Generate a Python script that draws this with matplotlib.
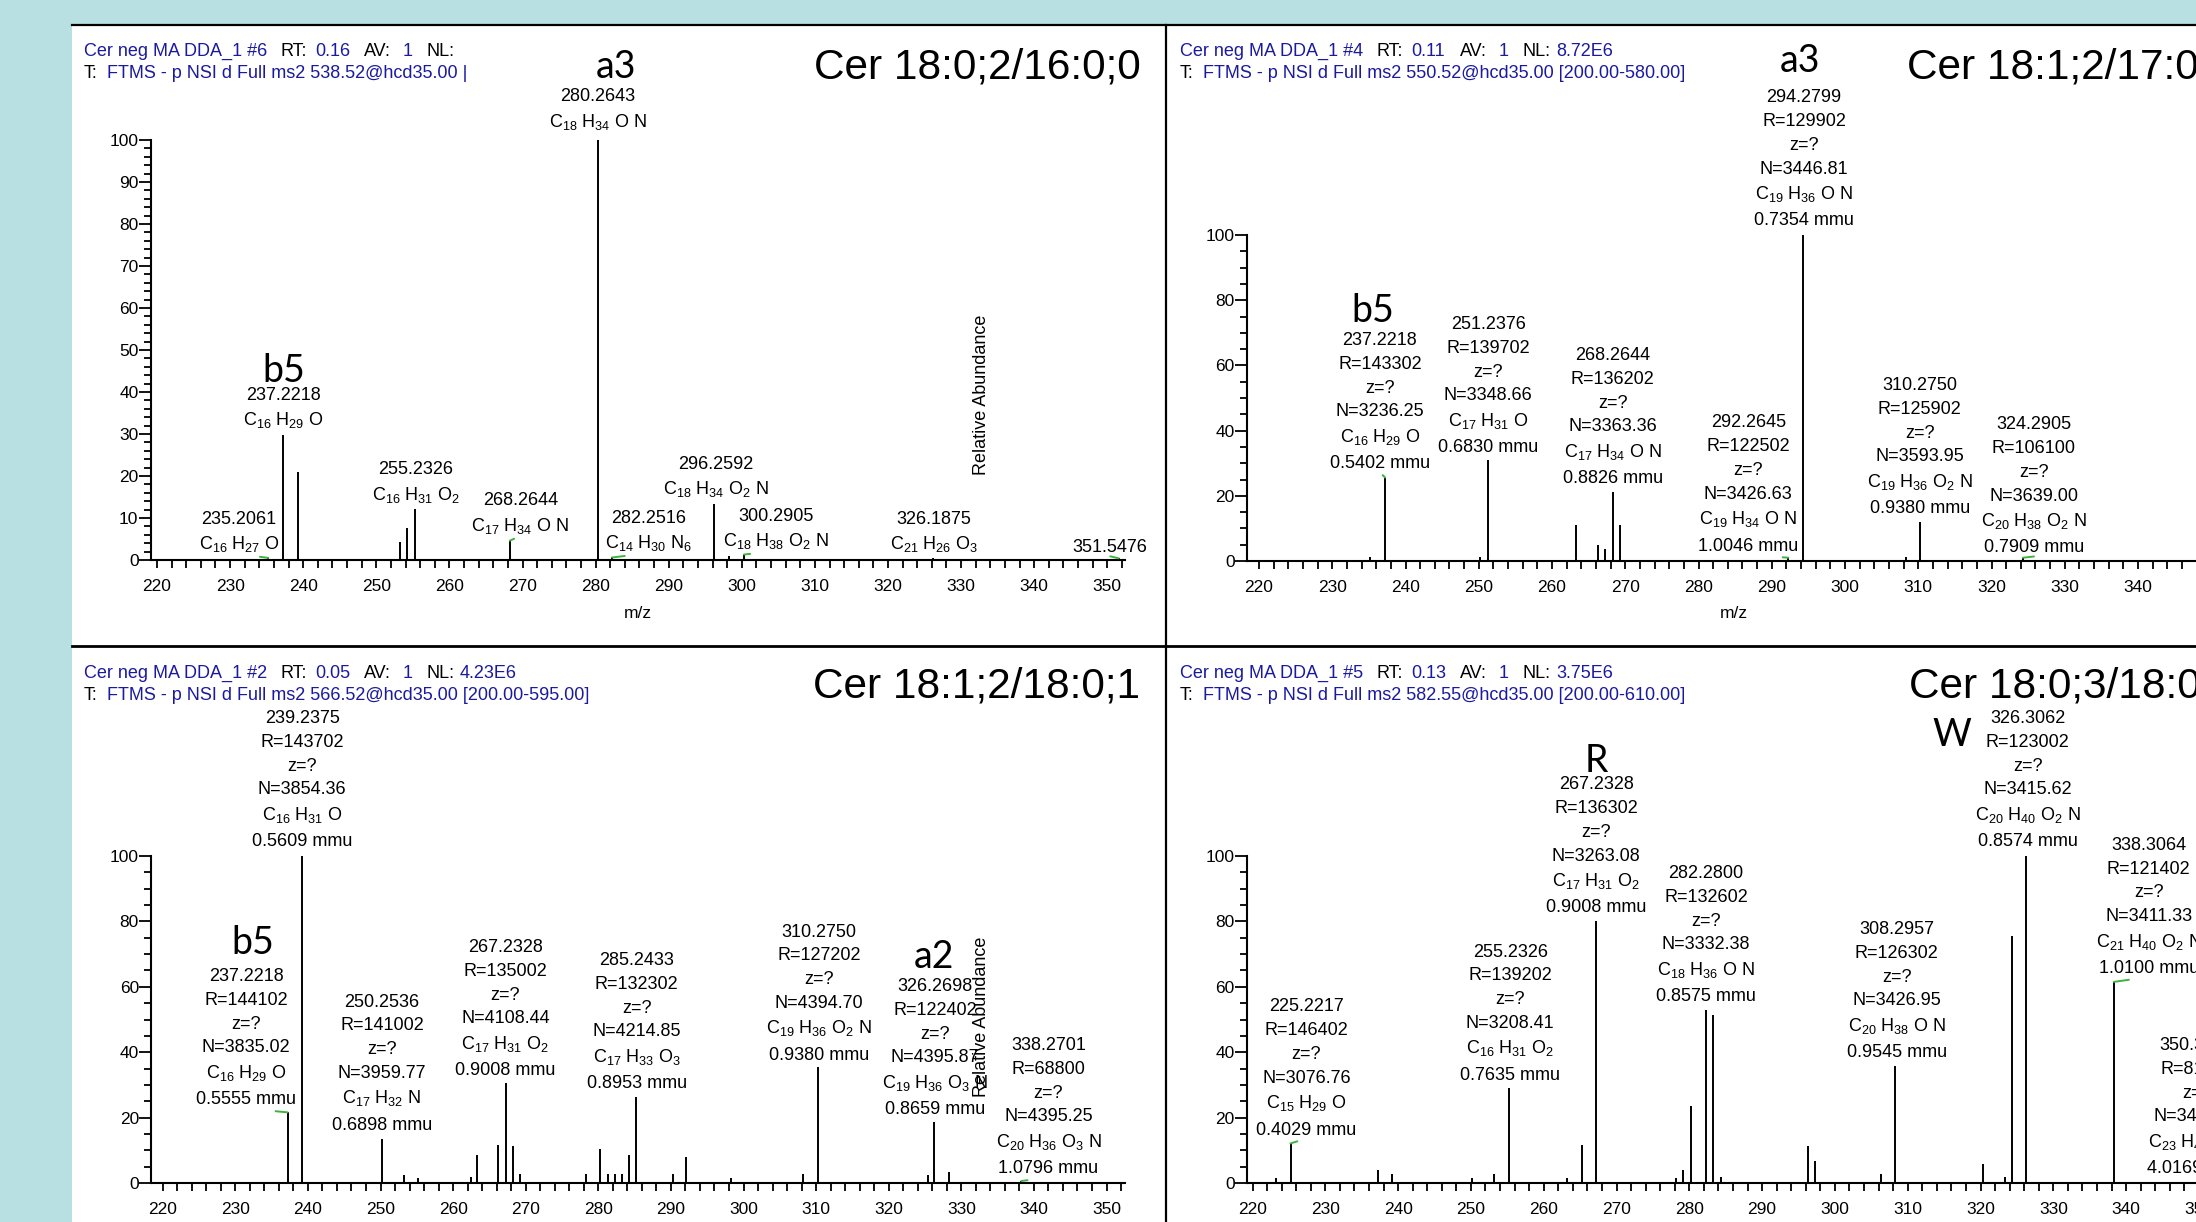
import re
import matplotlib
matplotlib.use('Agg')
import matplotlib.pyplot as plt
from matplotlib.patches import Rectangle, Circle
from matplotlib.lines import Line2D
from matplotlib.ticker import MultipleLocator

plt.rcParams['font.family'] = ['Liberation Sans', 'DejaVu Sans']
plt.rcParams['mathtext.fontset'] = 'custom'
plt.rcParams['mathtext.rm'] = 'Liberation Sans'
plt.rcParams['mathtext.it'] = 'Liberation Sans:italic'
plt.rcParams['mathtext.bf'] = 'Liberation Sans:bold'

W, H = 2196, 1222
BLUE = '#1a1aa0'
GREEN = '#3cb43c'
BG = '#b8dfe2'

# ---------------- data ----------------
titles = ['Cer 18:0;2/16:0;0', 'Cer 18:1;2/17:0', 'Cer 18:1;2/18:0;1', 'Cer 18:0;3/18:0']
scans = ['6', '4', '2', '5']
rts = ['0.16', '0.11', '0.05', '0.13']
nls = ['', '8.72E6', '4.23E6', '3.75E6']
filters = ['FTMS - p NSI d Full ms2 538.52@hcd35.00 |',
           'FTMS - p NSI d Full ms2 550.52@hcd35.00 [200.00-580.00]',
           'FTMS - p NSI d Full ms2 566.52@hcd35.00 [200.00-595.00]',
           'FTMS - p NSI d Full ms2 582.55@hcd35.00 [200.00-610.00]']

# panel 1
p1_mz = [235.2061, 237.2218, 239.24, 253.2, 254.2, 255.2326, 268.2644, 280.2643,
         282.2516, 296.2592, 298.3, 300.2905, 326.1875, 351.5476]
p1_int = [0.5, 29.7, 21.0, 4.2, 7.6, 12.2, 4.6, 100, 0.6, 13.4, 1.0, 1.3, 0.4, 0.4]
p1_lab_mz = [235.2061, 237.2218, 255.2326, 268.2644, 280.2643, 282.2516,
             296.2592, 300.2905, 326.1875, 351.5476]
p1_lab_formula = ['C16 H27 O', 'C16 H29 O', 'C16 H31 O2', 'C17 H34 O N', 'C18 H34 O N',
                  'C14 H30 N6', 'C18 H34 O2 N', 'C18 H38 O2 N', 'C21 H26 O3', '']
p1_tags = ['a3', 'b5']

# panel 2
p2_mz = [235.2, 237.2218, 250.2, 251.2376, 263.25, 266.25, 267.2, 268.2644, 269.25,
         292.2645, 294.2799, 308.3, 310.2750, 324.2905]
p2_int = [1.2, 25.6, 1.2, 30.9, 11.0, 5.0, 3.8, 21.3, 11.0, 1.0, 100, 1.2, 12.1, 1.0]
p2_lab_mz = [237.2218, 251.2376, 268.2644, 292.2645, 294.2799, 310.2750, 324.2905]
p2_lab_R = ['143302', '139702', '136202', '122502', '129902', '125902', '106100']
p2_lab_N = ['3236.25', '3348.66', '3363.36', '3426.63', '3446.81', '3593.95', '3639.00']
p2_lab_formula = ['C16 H29 O', 'C17 H31 O', 'C17 H34 O N', 'C19 H34 O N', 'C19 H36 O N',
                  'C19 H36 O2 N', 'C20 H38 O2 N']
p2_lab_mmu = ['0.5402', '0.6830', '0.8826', '1.0046', '0.7354', '0.9380', '0.7909']
p2_tags = ['b5', 'a3']

# panel 3
p3_mz = [237.2218, 239.2375, 250.2536, 253.2, 255.2, 262.4, 263.3, 266.2, 267.2328,
         268.25, 269.2, 278.3, 280.25, 281.4, 282.3, 283.2, 284.25, 285.2433, 290.3,
         292.1, 298.3, 308.2, 310.2750, 325.4, 326.2698, 328.3, 338.2701]
p3_int = [21.6, 100, 13.6, 2.5, 1.4, 1.7, 8.5, 11.6, 30.5, 11.2, 2.8, 2.8, 10.4, 2.8,
          2.8, 2.8, 8.5, 26.3, 2.8, 7.9, 1.4, 2.8, 35.4, 2.5, 18.7, 3.3, 0.6]
p3_lab_mz = [239.2375, 237.2218, 250.2536, 267.2328, 285.2433, 310.2750, 326.2698, 338.2701]
p3_lab_R = ['143702', '144102', '141002', '135002', '132302', '127202', '122402', '68800']
p3_lab_N = ['3854.36', '3835.02', '3959.77', '4108.44', '4214.85', '4394.70', '4395.87', '4395.25']
p3_lab_formula = ['C16 H31 O', 'C16 H29 O', 'C17 H32 N', 'C17 H31 O2', 'C17 H33 O3',
                  'C19 H36 O2 N', 'C19 H36 O3 N', 'C20 H36 O3 N']
p3_lab_mmu = ['0.5609', '0.5555', '0.6898', '0.9008', '0.8953', '0.9380', '0.8659', '1.0796']
p3_tags = ['b5', 'a2']

# panel 4
p4_mz = [223.2, 225.2217, 237.2, 239.2, 250.2, 253.2, 255.2326, 263.2, 265.3, 267.2328,
         278.2, 279.2, 280.3, 282.2800, 283.3, 284.3, 296.3, 297.3, 306.3, 308.2957,
         320.4, 323.3, 324.3, 326.3062, 338.3064, 350.3469]
p4_int = [1.4, 12.1, 3.9, 2.8, 1.4, 2.8, 28.9, 1.4, 11.6, 80.0, 1.4, 3.9, 23.5, 52.8,
          51.3, 1.7, 11.2, 6.8, 2.8, 35.8, 5.9, 1.7, 75.5, 100, 61.5, 6.0]
p4_lab_mz = [225.2217, 255.2326, 267.2328, 282.2800, 308.2957, 326.3062, 338.3064, 350.3469]
p4_lab_R = ['146402', '139202', '136302', '132602', '126302', '123002', '121402', '81302']
p4_lab_N = ['3076.76', '3208.41', '3263.08', '3332.38', '3426.95', '3415.62', '3411.33', '3452.77']
p4_lab_formula = ['C15 H29 O', 'C16 H31 O2', 'C17 H31 O2', 'C18 H36 O N', 'C20 H38 O N',
                  'C20 H40 O2 N', 'C21 H40 O2 N', 'C23 H44 O N']
p4_lab_mmu = ['0.4029', '0.7635', '0.9008', '0.8575', '0.9545', '0.8574', '1.0100', '4.0169']
p4_tags = ['R', 'W']

# ---------------- layout (pixels / data positions of text) ----------------
# axes: left, right, top, bottom px ; px position of m/z 220 ; px per m/z unit
frames = [(151, 1125, 140, 560, 157, 7.31),
          (1247, 2221, 235, 561, 1259, 7.325),
          (151.5, 1125, 856, 1183, 162.7, 7.26),
          (1247, 2221, 856, 1183, 1252.5, 7.28)]
ymajor = [10, 20, 20, 20]
yminor = [2, 5, 5, 5]
head_xy = [(84, 51, 73), (1180, 51, 73), (84, 673, 696), (1180, 673, 696)]
title_xy = [(814, 78), (1907, 78), (813, 697.5), (1909, 697.5)]
mz_label_xy = [(638, 613), (1734, 614)]
relab_xy = [(982, 395), (981, 1017)]
p1_lab_pos = [(231.2, 3.8), (237.3, 33.3), (255.4, 15.5), (269.7, 8.1), (280.3, 104.3),
              (287.2, 4.0), (296.5, 16.9), (304.7, 4.5), (326.3, 3.8), (350.4, 2.9)]
p2_lab_pos = [(236.5, 29.8), (251.3, 34.7), (268.3, 25.2), (286.8, 4.6), (294.4, 104.3),
              (310.2, 16.0), (325.8, 4.0)]
p3_lab_pos = [(239.2, 104.3), (231.5, 25.4), (250.2, 17.7), (267.2, 34.3), (285.3, 30.3),
              (310.4, 39.1), (326.4, 22.4), (342.0, 4.3)]
p4_lab_pos = [(227.4, 16.2), (255.4, 33.0), (267.2, 84.1), (282.3, 56.9), (308.5, 39.8),
              (326.5, 104.3), (343.1, 65.6), (349.8, 4.3)]
p1_tag_pos = [(282.8, 114.8), (237.4, 42.5)]
p2_tag_pos = [(235.6, 73.3), (293.9, 150.1)]
p3_tag_pos = [(232.4, 70.1), (326.2, 65.6)]
p4_tag_pos = [(267.2, 125.7), (316.0, 133.7)]

head_dx = [0, 197, 231, 280, 319, 343, 376]
off6 = [0, 19.4, 37.4, 54.4, 71.6, 88.6]
off2 = [0, 18]
FS = 13


def fx(x):
    return x / W


def fy(y):
    return 1 - y / H


def chem(s):
    return re.sub(r'([A-Z][a-z]?)(\d+)', r'\1$_{\2}$', s)


fig = plt.figure(figsize=(W / 100, H / 100), dpi=100, facecolor=BG)
fig.add_artist(Rectangle((fx(72), 0), 1 - fx(72), fy(25), transform=fig.transFigure,
                         facecolor='white', edgecolor='none', zorder=-10))
fig.add_artist(Circle((fx(2019), fy(-53)), 59 / W, transform=fig.transFigure,
                      facecolor='black', edgecolor='none', zorder=-5))
for l in [Line2D([fx(72), 1], [fy(25), fy(25)], lw=1.6),
          Line2D([fx(72), 1], [fy(646), fy(646)], lw=2.0),
          Line2D([fx(1166), fx(1166)], [0, fy(25)], lw=1.6)]:
    l.set_color('black')
    l.set_transform(fig.transFigure)
    fig.add_artist(l)

panels = [
    (p1_mz, p1_int, p1_lab_mz, None, None, p1_lab_formula, None, p1_lab_pos, p1_tags, p1_tag_pos),
    (p2_mz, p2_int, p2_lab_mz, p2_lab_R, p2_lab_N, p2_lab_formula, p2_lab_mmu, p2_lab_pos, p2_tags, p2_tag_pos),
    (p3_mz, p3_int, p3_lab_mz, p3_lab_R, p3_lab_N, p3_lab_formula, p3_lab_mmu, p3_lab_pos, p3_tags, p3_tag_pos),
    (p4_mz, p4_int, p4_lab_mz, p4_lab_R, p4_lab_N, p4_lab_formula, p4_lab_mmu, p4_lab_pos, p4_tags, p4_tag_pos),
]

for k, (mz, inten, lmz, lR, lN, lform, lmmu, lpos, tags, tpos) in enumerate(panels):
    left, right, top, bottom, x220, ppu = frames[k]
    ax = fig.add_axes([fx(left), fy(bottom), fx(right) - fx(left), fy(top) - fy(bottom)])
    ax.set_xlim(220 + (left - x220) / ppu, 220 + (right - x220) / ppu)
    ax.set_ylim(0, 100)
    ax.patch.set_alpha(0)
    for s in ['top', 'right']:
        ax.spines[s].set_visible(False)
    for s in ['left', 'bottom']:
        ax.spines[s].set_linewidth(1.5)
    ax.xaxis.set_major_locator(MultipleLocator(10))
    ax.xaxis.set_minor_locator(MultipleLocator(2))
    ax.yaxis.set_major_locator(MultipleLocator(ymajor[k]))
    ax.yaxis.set_minor_locator(MultipleLocator(yminor[k]))
    ax.tick_params(axis='x', which='both', length=5.5, width=1.3, pad=8, labelsize=12.5)
    ax.tick_params(axis='y', which='major', length=8.5, width=1.3, pad=0.5, labelsize=12.5)
    ax.tick_params(axis='y', which='minor', length=4.8, width=1.3)

    ax.vlines(mz, 0, inten, colors='black', lw=1.4, zorder=3)

    for i, m in enumerate(lmz):
        j = min(range(len(mz)), key=lambda q: abs(mz[q] - m))
        lines = ['%.4f' % m]
        if lR is not None:
            lines += ['R=' + lR[i], 'z=?', 'N=' + lN[i]]
        if lform[i]:
            lines.append(chem(lform[i]))
        if lmmu is not None:
            lines.append(lmmu[i] + ' mmu')
        offs = off6 if len(lines) == 6 else off2
        lx, ly = lpos[i]
        lines = lines[::-1]
        conn = None
        if abs(lx - m) > 0.5:
            conn = dict(arrowstyle='-', color=GREEN, lw=1.4, shrinkA=0, shrinkB=0,
                        relpos=(0.5, 0.0))
        ax.annotate(lines[0], xy=(m, inten[j]), xytext=(lx, ly), textcoords='data',
                    ha='center', va='center', fontsize=FS, annotation_clip=False,
                    arrowprops=conn)
        for t, o in zip(lines[1:], offs[1:]):
            ax.annotate(t, xy=(lx, ly), xytext=(0, o), textcoords='offset points',
                        ha='center', va='center', fontsize=FS, annotation_clip=False)

    for t, (tx, ty) in zip(tags, tpos):
        ax.text(tx, ty, t, ha='center', va='baseline', fontsize=27, clip_on=False,
                family=['Lato', 'DejaVu Sans'], fontweight='normal', color='black')

    # header
    hx, hy1, hy2 = head_xy[k]
    segs = [('Cer neg MA DDA_1 #' + scans[k], BLUE), ('RT:', 'black'), (rts[k], BLUE),
            ('AV:', 'black'), ('1', BLUE), ('NL:', 'black'), (nls[k], BLUE)]
    for (s, c), dx in zip(segs, head_dx):
        fig.text(fx(hx + dx), fy(hy1), s, color=c, fontsize=FS, va='center')
    fig.text(fx(hx), fy(hy2), 'T:', color='black', fontsize=FS, va='center')
    fig.text(fx(hx + 23), fy(hy2), filters[k], color=BLUE, fontsize=FS, va='center')

    tx, ty = title_xy[k]
    fig.text(fx(tx), fy(ty), titles[k], fontsize=30.5, va='baseline', ha='left')

for x, y in mz_label_xy:
    fig.text(fx(x), fy(y), 'm/z', fontsize=12.5, ha='center', va='center')
for x, y in relab_xy:
    fig.text(fx(x), fy(y), 'Relative Abundance', fontsize=FS, rotation=90,
             ha='center', va='center')

fig.savefig('out.png', dpi=100, facecolor=BG)
